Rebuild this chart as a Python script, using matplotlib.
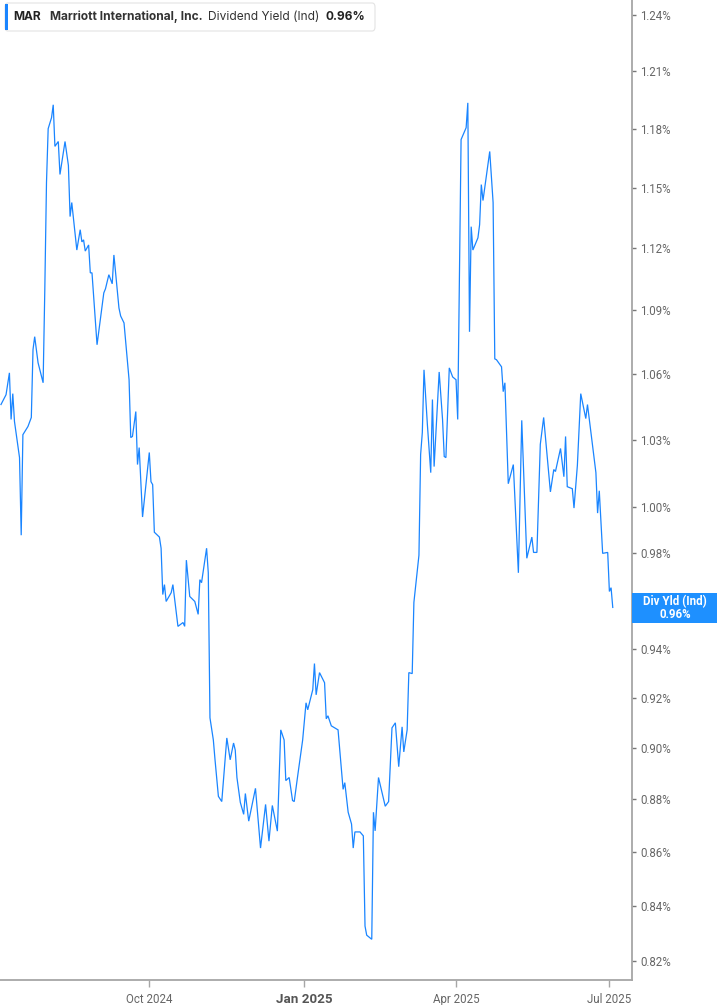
import matplotlib
matplotlib.use('Agg')
import matplotlib.pyplot as plt
import matplotlib.dates as mdates
from matplotlib.ticker import FixedLocator, NullLocator, FuncFormatter
from matplotlib.patches import FancyBboxPatch, Rectangle
import pandas as pd

# ---------------- data ----------------
dates = [
    "2024-07-05", "2024-07-08", "2024-07-10", "2024-07-11", "2024-07-12", "2024-07-13",
    "2024-07-16", "2024-07-17", "2024-07-18", "2024-07-21", "2024-07-23", "2024-07-24",
    "2024-07-25", "2024-07-27", "2024-07-30", "2024-07-31", "2024-08-01", "2024-08-02",
    "2024-08-04", "2024-08-05", "2024-08-06", "2024-08-08", "2024-08-09", "2024-08-12",
    "2024-08-14", "2024-08-15", "2024-08-16", "2024-08-19", "2024-08-21", "2024-08-22",
    "2024-08-23", "2024-08-24", "2024-08-26", "2024-08-27", "2024-08-28", "2024-08-31",
    "2024-09-04", "2024-09-05", "2024-09-07", "2024-09-09", "2024-09-10", "2024-09-13",
    "2024-09-14", "2024-09-16", "2024-09-19", "2024-09-20", "2024-09-21", "2024-09-23",
    "2024-09-24", "2024-09-25", "2024-09-27", "2024-10-01", "2024-10-02", "2024-10-03",
    "2024-10-04", "2024-10-07", "2024-10-08", "2024-10-09", "2024-10-10", "2024-10-11",
    "2024-10-14", "2024-10-15", "2024-10-18", "2024-10-21", "2024-10-22", "2024-10-23",
    "2024-10-25", "2024-10-28", "2024-10-30", "2024-10-31", "2024-11-01", "2024-11-04",
    "2024-11-05", "2024-11-06", "2024-11-08", "2024-11-09", "2024-11-11", "2024-11-13",
    "2024-11-16", "2024-11-18", "2024-11-20", "2024-11-21", "2024-11-22", "2024-11-24",
    "2024-11-26", "2024-11-27", "2024-11-29", "2024-12-03", "2024-12-06", "2024-12-09",
    "2024-12-11", "2024-12-13", "2024-12-16", "2024-12-18", "2024-12-20", "2024-12-21",
    "2024-12-23", "2024-12-25", "2024-12-26", "2024-12-28", "2024-12-31", "2025-01-02",
    "2025-01-03", "2025-01-06", "2025-01-07", "2025-01-08", "2025-01-10", "2025-01-13",
    "2025-01-14", "2025-01-15", "2025-01-17", "2025-01-21", "2025-01-24", "2025-01-25",
    "2025-01-27", "2025-01-29", "2025-01-30", "2025-01-31", "2025-02-03", "2025-02-05",
    "2025-02-06", "2025-02-07", "2025-02-10", "2025-02-11", "2025-02-12", "2025-02-14",
    "2025-02-18", "2025-02-20", "2025-02-22", "2025-02-24", "2025-02-26", "2025-02-28",
    "2025-03-01", "2025-03-03", "2025-03-04", "2025-03-06", "2025-03-07", "2025-03-10",
    "2025-03-11", "2025-03-12", "2025-03-13", "2025-03-15", "2025-03-17", "2025-03-18",
    "2025-03-19", "2025-03-22", "2025-03-24", "2025-03-25", "2025-03-26", "2025-03-28",
    "2025-03-30", "2025-04-01", "2025-04-02", "2025-04-04", "2025-04-07", "2025-04-08",
    "2025-04-09", "2025-04-10", "2025-04-11", "2025-04-14", "2025-04-15", "2025-04-16",
    "2025-04-17", "2025-04-21", "2025-04-23", "2025-04-24", "2025-04-25", "2025-04-28",
    "2025-04-29", "2025-04-30", "2025-05-02", "2025-05-05", "2025-05-08", "2025-05-10",
    "2025-05-13", "2025-05-16", "2025-05-17", "2025-05-19", "2025-05-21", "2025-05-23",
    "2025-05-27", "2025-05-29", "2025-05-30", "2025-06-02", "2025-06-04", "2025-06-05",
    "2025-06-06", "2025-06-09", "2025-06-10", "2025-06-12", "2025-06-14", "2025-06-17",
    "2025-06-18", "2025-06-23", "2025-06-24", "2025-06-25", "2025-06-27", "2025-06-30",
    "2025-07-01", "2025-07-02", "2025-07-03",
]

div_yield = [
    1.0459, 1.0504, 1.0605, 1.0391, 1.0509, 1.0382,
    1.0219, 0.9878, 1.0322, 1.0359, 1.0400, 1.0713,
    1.0774, 1.0652, 1.0559, 1.0997, 1.1525, 1.1800,
    1.1857, 1.1924, 1.1709, 1.1734, 1.1566, 1.1734,
    1.1612, 1.1355, 1.1425, 1.1190, 1.1290, 1.1230,
    1.1240, 1.1185, 1.1215, 1.1079, 1.1079, 1.0736,
    1.0982, 1.1002, 1.1070, 1.1026, 1.1166, 1.0910,
    1.0872, 1.0839, 1.0573, 1.0309, 1.0314, 1.0427,
    1.0188, 1.0264, 0.9957, 1.0242, 1.0112, 1.0099,
    0.9891, 0.9870, 0.9822, 0.9625, 0.9667, 0.9596,
    0.9633, 0.9667, 0.9492, 0.9508, 0.9492, 0.9771,
    0.9617, 0.9596, 0.9542, 0.9688, 0.9675, 0.9822,
    0.9717, 0.9120, 0.9032, 0.8954, 0.8812, 0.8792,
    0.9040, 0.8954, 0.9020, 0.8992, 0.8885, 0.8789,
    0.8743, 0.8823, 0.8717, 0.8843, 0.8615, 0.8781,
    0.8641, 0.8777, 0.8679, 0.9072, 0.9032, 0.8873,
    0.8885, 0.8796, 0.8792, 0.8889, 0.9032, 0.9180,
    0.9152, 0.9233, 0.9339, 0.9212, 0.9302, 0.9261,
    0.9116, 0.9128, 0.9088, 0.9072, 0.8839, 0.8865,
    0.8751, 0.8706, 0.8615, 0.8676, 0.8676, 0.8661,
    0.8326, 0.8293, 0.8278, 0.8751, 0.8680, 0.8885,
    0.8774, 0.8792, 0.9080, 0.9100, 0.8927, 0.9084,
    0.8985, 0.9072, 0.9302, 0.9298, 0.9592, 0.9792,
    1.0233, 1.0332, 1.0619, 1.0368, 1.0152, 1.0482,
    1.0179, 1.0609, 1.0391, 1.0224, 1.0219, 1.0628,
    1.0586, 1.0573, 1.0391, 1.1744, 1.1805, 1.1934,
    1.0797, 1.1305, 1.1190, 1.1250, 1.1315, 1.1515,
    1.1435, 1.1683, 1.1425, 1.0670, 1.0666, 1.0633,
    1.0518, 1.0559, 1.0103, 1.0188, 0.9717, 1.0387,
    0.9779, 0.9870, 0.9804, 0.9804, 1.0278, 1.0400,
    1.0067, 1.0166, 1.0157, 1.0260, 1.0134, 1.0314,
    1.0090, 1.0081, 0.9996, 1.0184, 1.0509, 1.0395,
    1.0459, 1.0152, 0.9974, 1.0072, 0.9800, 0.9804,
    0.9638, 0.9654, 0.9571,
]

y_ticks = [0.82, 0.84, 0.86, 0.88, 0.90, 0.92, 0.94, 0.96, 0.98, 1.00,
           1.03, 1.06, 1.09, 1.12, 1.15, 1.18, 1.21, 1.24]
hidden_tick = 0.96  # covered by the last-value badge
x_tick_dates = ["2024-10-01", "2025-01-01", "2025-04-01", "2025-07-01"]
x_tick_labels = ["Oct 2024", "Jan 2025", "Apr 2025", "Jul 2025"]

ticker_sym = "MAR"
company = "Marriott International, Inc."
metric = "Dividend Yield (Ind)"
last_value_label = "0.96%"
badge_title = "Div Yld (Ind)"

# ---------------- figure ----------------
W, H = 717, 1005
fig = plt.figure(figsize=(W / 100, H / 100), dpi=100)
fig.patch.set_facecolor("white")

ax_left, ax_right, ax_top, ax_bottom = 0, 632, 0, 980
ax = fig.add_axes([ax_left / W, 1 - ax_bottom / H,
                   (ax_right - ax_left) / W, (ax_bottom - ax_top) / H])

x = pd.to_datetime(dates)
line_color = "#1a85ff"
ax.plot(x, div_yield, color=line_color, lw=0.9, solid_joinstyle="miter")

ax.set_yscale("log")
ax.set_ylim(0.8132, 1.2483)
ax.set_xlim(pd.Timestamp("2024-07-04 10:00"), pd.Timestamp("2025-07-14 10:00"))

ax.yaxis.set_major_locator(FixedLocator(y_ticks))
ax.yaxis.set_minor_locator(NullLocator())
ax.yaxis.set_major_formatter(
    FuncFormatter(lambda v, p: "" if abs(v - hidden_tick) < 1e-6 else f"{v:.2f}%"))
ax.yaxis.tick_right()

ax.xaxis.set_major_locator(FixedLocator(mdates.date2num(pd.to_datetime(x_tick_dates))))
ax.xaxis.set_minor_locator(NullLocator())
ax.set_xticklabels(x_tick_labels)

axis_gray = "#a6a6a6"
text_gray = "#666666"
for s in ["top", "left"]:
    ax.spines[s].set_visible(False)
for s in ["right", "bottom"]:
    ax.spines[s].set_color(axis_gray)
    ax.spines[s].set_linewidth(1.3)

ax.tick_params(axis="y", which="major", direction="out", length=3, width=1,
               color="#777777", labelsize=8.3, labelcolor=text_gray, pad=3)
ax.tick_params(axis="x", which="major", direction="out", length=5, width=1,
               color=axis_gray, labelsize=8.3, labelcolor=text_gray, pad=4)
for lab in ax.get_yticklabels():
    lab.set_fontfamily("Roboto")
for i, lab in enumerate(ax.get_xticklabels()):
    lab.set_fontfamily("Roboto")
    if x_tick_labels[i].startswith("Jan"):
        lab.set_fontweight("bold")
        lab.set_fontsize(9.6)
        lab.set_color("#555555")

# ---------------- last value badge ----------------
def px(xp, yp):
    return xp / W, 1 - yp / H

badge_color = "#1e90ff"
bx0, by0 = px(632, 623)
badge = Rectangle((bx0, by0), (717 - 632) / W, 30 / H, transform=fig.transFigure,
                  facecolor=badge_color, edgecolor="none", zorder=5)
fig.patches.append(badge)
fig.text(*px(675, 602), badge_title, ha="center", va="center", color="white",
         fontsize=8.3, fontweight="bold", family="Roboto", zorder=6)
fig.text(*px(675, 615), last_value_label, ha="center", va="center", color="white",
         fontsize=8.3, fontweight="bold", family="Roboto", zorder=6)

# ---------------- header legend ----------------
hx0, hy0 = px(5, 31)
header = FancyBboxPatch((hx0, hy0), (375 - 5) / W, 28 / H, transform=fig.transFigure,
                        boxstyle="round,pad=0,rounding_size=0.004",
                        facecolor="white", edgecolor="#e3e3e3", lw=0.8, zorder=5)
fig.patches.append(header)
bar = Rectangle(px(5, 30), 3 / W, 26 / H, transform=fig.transFigure,
                facecolor=line_color, edgecolor="none", zorder=6)
fig.patches.append(bar)
hy = 17
fig.text(*px(13, hy), ticker_sym, ha="left", va="center", fontsize=8.6,
         fontweight="bold", color="#222222", family="Inter", zorder=7)
fig.text(*px(50, hy), company, ha="left", va="center", fontsize=8.6,
         fontweight="bold", color="#333333", family="Inter", zorder=7)
fig.text(*px(208, hy), metric, ha="left", va="center", fontsize=8.6,
         color="#333333", family="Inter", zorder=7)
fig.text(*px(325, hy), last_value_label, ha="left", va="center", fontsize=8.6,
         fontweight="bold", color="#222222", family="Inter", zorder=7)

fig.savefig("out.png", dpi=100, facecolor="white")
